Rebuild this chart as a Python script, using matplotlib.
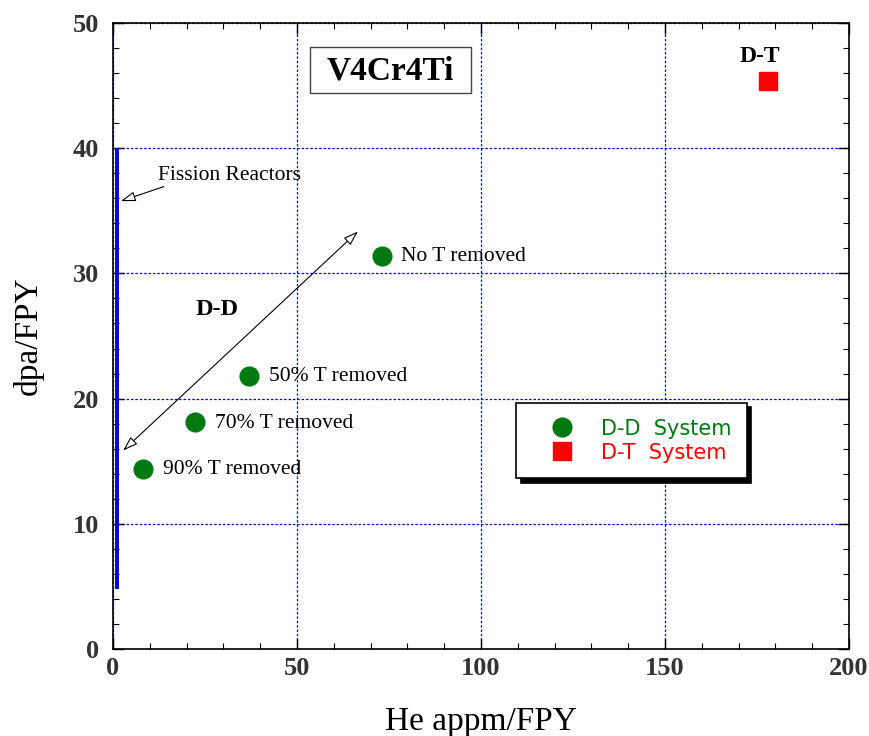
import matplotlib
matplotlib.use("Agg")
import matplotlib.pyplot as plt
from matplotlib.ticker import MultipleLocator
from matplotlib.patches import Rectangle

# Data
dd_he = [8.2, 22.3, 37.0, 73.1]
dd_dpa = [14.4, 18.1, 21.8, 31.4]
dd_labels = ["90% T removed", "70% T removed", "50% T removed", "No T removed"]
dt_he = [178.0]
dt_dpa = [45.4]
fission_he = [1.0, 1.0]
fission_dpa = [4.8, 40.0]

serif = ["Liberation Serif", "DejaVu Serif"]

fig = plt.figure(figsize=(8.7, 7.36), dpi=100)
ax = fig.add_axes([0.1299, 0.1182, 0.8460, 0.8506])

ax.set_xlim(0, 200)
ax.set_ylim(0, 50)

ax.grid(True, which="major", color="#0000ee", linestyle=(0, (2, 1.5)), linewidth=0.9)
ax.xaxis.set_major_locator(MultipleLocator(50))
ax.xaxis.set_minor_locator(MultipleLocator(10))
ax.yaxis.set_major_locator(MultipleLocator(10))
ax.yaxis.set_minor_locator(MultipleLocator(2))
ax.tick_params(which="both", direction="in", top=True, right=True, color="black")
ax.tick_params(which="major", length=8, width=1)
ax.tick_params(which="minor", length=4, width=0.8)
for lab in ax.get_xticklabels() + ax.get_yticklabels():
    lab.set_fontfamily(serif)
    lab.set_fontweight("bold")
    lab.set_fontsize(19)
    lab.set_color("#333333")
ax.tick_params(axis="x", pad=6)
ax.tick_params(axis="y", pad=10)
for s in ax.spines.values():
    s.set_linewidth(1.2)

ax.set_xlabel("He appm/FPY", fontfamily=serif, fontsize=24, labelpad=19)
ax.set_ylabel("dpa/FPY", fontfamily=serif, fontsize=24, labelpad=21)

ax.plot(fission_he, fission_dpa, color="#0000dd", linewidth=2.8, solid_capstyle="butt", zorder=3)

dd_line, = ax.plot(dd_he, dd_dpa, linestyle="none", marker="o", markersize=13.5,
                   color="#007a10", markeredgecolor="#007a10", zorder=4)
dt_line, = ax.plot(dt_he, dt_dpa, linestyle="none", marker="s", markersize=13,
                   color="#ff0000", markeredgecolor="#ff0000", zorder=4)

for x, y, t in zip(dd_he, dd_dpa, dd_labels):
    ax.annotate(t, (x, y), xytext=(14, -0.5), textcoords="offset points",
                ha="left", va="center", fontfamily=serif, fontsize=15.5)

ax.text(175.8, 47.3, "D-T", fontfamily=serif, fontsize=17, fontweight="bold",
        ha="center", va="center")
ax.text(28.3, 27.1, "D-D", fontfamily=serif, fontsize=17.5, fontweight="bold",
        ha="center", va="center")
ax.add_patch(Rectangle((53.5, 44.4), 43.8, 3.7, facecolor="white", edgecolor="#444444",
                       linewidth=1, zorder=5))
ax.text(75.3, 46.2, "V4Cr4Ti", fontfamily=serif, fontsize=24, fontweight="bold",
        ha="center", va="center", zorder=6)

# Fission reactors annotation
ax.text(12.3, 37.8, "Fission Reactors", fontfamily=serif, fontsize=15.5, ha="left", va="center")
ax.annotate("", xy=(1.4, 35.7), xytext=(14.5, 37.0),
            arrowprops=dict(arrowstyle="-|>,head_length=0.9,head_width=0.3",
                            facecolor="white", edgecolor="black", linewidth=0.8))

# Double headed arrow
ax.annotate("", xy=(2.2, 15.7), xytext=(67.1, 33.5),
            arrowprops=dict(arrowstyle="<|-|>,head_length=0.9,head_width=0.3",
                            facecolor="white", edgecolor="black", linewidth=0.8))

leg = ax.legend([dd_line, dt_line], ["D-D  System", "D-T  System"],
                loc="upper left", bbox_to_anchor=(0.548, 0.393),
                frameon=True, fancybox=False, edgecolor="black",
                shadow={"color": "black", "alpha": 1.0, "ox": 3, "oy": -3},
                prop={"family": "DejaVu Sans", "size": 15},
                handletextpad=0.4, labelspacing=0.2, borderpad=0.75,
                handlelength=2.9, borderaxespad=0, numpoints=1)
leg.get_frame().set_linewidth(1.2)
leg.get_texts()[0].set_color("#007a10")
leg.get_texts()[1].set_color("#ff0000")

fig.savefig("out.png", dpi=100)
